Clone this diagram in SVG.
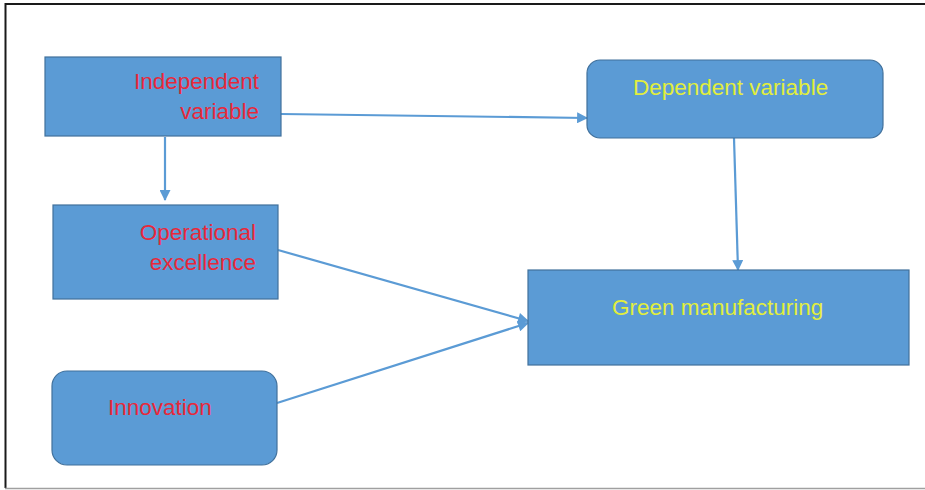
<svg xmlns="http://www.w3.org/2000/svg" width="925" height="490" viewBox="0 0 925 490">
<style>
.box{fill:#5b9bd5;stroke:#41719c;stroke-width:1.2}
.red{fill:#e8283a;font-family:"Liberation Sans",Arial,sans-serif;font-size:22.5px}
.yel{fill:#e2ee3c;font-family:"Liberation Sans",Arial,sans-serif;font-size:22.5px}
.conn{stroke:#5b9bd5;stroke-width:2.2;fill:none;marker-end:url(#ah)}
</style>
<defs>
<marker id="ah" viewBox="0 0 10 10" refX="9" refY="5" markerWidth="12" markerHeight="11" orient="auto" markerUnits="userSpaceOnUse">
<path d="M0,0 L10,5 L0,10 z" fill="#5b9bd5"/>
</marker>
</defs>
<rect x="0" y="0" width="925" height="490" fill="#ffffff"/>
<path d="M5.5,488 V4 H925" stroke="#1a1a1a" stroke-width="2" fill="none"/>
<path d="M5,488.5 H925" stroke="#a0a0a0" stroke-width="1.5" fill="none"/>
<g id="connectors">
<path class="conn" d="M281,114 L587,118"/>
<path class="conn" d="M165,137 L165,200"/>
<path class="conn" d="M734,138 L738,270"/>
<path class="conn" d="M278,250 L528,321"/>
<path class="conn" d="M277,403 L528,323"/>
</g>
<g id="independent">
<rect class="box" x="45" y="57" width="236" height="79"/>
<text class="red" x="259" y="89" text-anchor="end">Independent</text>
<text class="red" x="259" y="119" text-anchor="end">variable</text>
</g>
<g id="operational">
<rect class="box" x="53" y="205" width="225" height="94"/>
<text class="red" x="256" y="240" text-anchor="end">Operational</text>
<text class="red" x="256" y="270" text-anchor="end">excellence</text>
</g>
<g id="innovation">
<rect class="box" x="52" y="371" width="225" height="94" rx="15"/>
<text class="red" x="108" y="415">Innovation</text>
</g>
<g id="dependent">
<rect class="box" x="587" y="60" width="296" height="78" rx="13"/>
<text class="yel" x="633" y="95">Dependent variable</text>
</g>
<g id="green">
<rect class="box" x="528" y="270" width="381" height="95"/>
<text class="yel" x="612" y="315">Green manufacturing</text>
</g>
</svg>
